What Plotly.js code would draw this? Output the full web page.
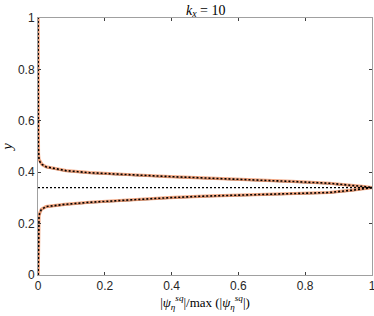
<!DOCTYPE html>
<html>
<head>
<meta charset="utf-8">
<script src="https://cdn.plot.ly/plotly-3.0.1.min.js"></script>
<style>html,body{margin:0;padding:0;background:#fff;}#chart{width:374px;height:316px;}</style>
</head>
<body>
<div id="chart"></div>
<script>
// Profile |psi| / max(|psi|) versus y (dotted / orange curve)
var yProfile = [0, 0.1, 0.2, 0.228, 0.24, 0.255, 0.266, 0.275, 0.283, 0.293, 0.301, 0.307, 0.313, 0.321, 0.330, 0.336, 0.340, 0.345, 0.350, 0.357, 0.364, 0.370, 0.376, 0.383, 0.390, 0.398, 0.406, 0.415, 0.421, 0.430, 0.440, 0.450, 0.470, 0.5, 0.6, 0.8, 1.0];
var xProfile = [0.0005, 0.001, 0.0015, 0.003, 0.005, 0.01, 0.024, 0.08, 0.155, 0.28, 0.394, 0.5, 0.633, 0.872, 0.94, 0.975, 1.0, 0.97, 0.93, 0.872, 0.76, 0.633, 0.52, 0.394, 0.28, 0.155, 0.084, 0.045, 0.024, 0.012, 0.006, 0.003, 0.0015, 0.001, 0.0008, 0.0005, 0.0003];
// Solid black reference curve (slightly offset)
var ySolid = [0, 0.1, 0.2, 0.225, 0.237, 0.252, 0.263, 0.272, 0.280, 0.290, 0.298, 0.304, 0.310, 0.318, 0.327, 0.333, 0.338, 0.342, 0.347, 0.354, 0.361, 0.367, 0.373, 0.380, 0.387, 0.395, 0.403, 0.412, 0.418, 0.427, 0.437, 0.447, 0.467, 0.5, 0.6, 0.8, 1.0];
var xSolid = [0.0005, 0.001, 0.0015, 0.003, 0.005, 0.01, 0.024, 0.08, 0.155, 0.28, 0.394, 0.5, 0.633, 0.872, 0.94, 0.975, 1.0, 0.97, 0.93, 0.872, 0.76, 0.633, 0.52, 0.394, 0.28, 0.155, 0.084, 0.045, 0.024, 0.012, 0.006, 0.003, 0.0015, 0.001, 0.0008, 0.0005, 0.0003];
// Horizontal marker line at the critical level
var yCritical = 0.34;
var xCriticalRange = [0, 1];
var tickVals = [0, 0.2, 0.4, 0.6, 0.8, 1];
var tickText = ['0', '0.2', '0.4', '0.6', '0.8', '1'];

var traces = [
  {x: xSolid, y: ySolid, mode: 'lines', line: {color: '#000000', width: 1}, hoverinfo: 'skip'},
  {x: xProfile, y: yProfile, mode: 'lines', line: {color: 'rgb(242,160,120)', width: 3.2}, opacity: 0.9, hoverinfo: 'skip'},
  {x: xProfile, y: yProfile, mode: 'lines', line: {color: '#000000', width: 1.6, dash: '2px,2px'}, hoverinfo: 'skip'},
  {x: xCriticalRange, y: [yCritical, yCritical], mode: 'lines', line: {color: '#000000', width: 1.2, dash: '2px,2px'}, hoverinfo: 'skip'}
];

var axisCommon = {
  range: [0, 1],
  tickvals: tickVals,
  ticktext: tickText,
  ticks: 'inside',
  ticklen: 3,
  tickwidth: 1,
  tickcolor: '#404040',
  showline: true,
  linecolor: '#a0a0a0',
  linewidth: 1,
  mirror: 'ticks',
  showgrid: false,
  zeroline: false,
  ticklabeloverflow: 'allow',
  tickfont: {family: 'Liberation Sans, Arial, sans-serif', size: 12, color: '#262626'}
};

var layout = {
  width: 374,
  height: 316,
  margin: {l: 38, r: 2, t: 18, b: 41},
  paper_bgcolor: '#ffffff',
  plot_bgcolor: '#ffffff',
  showlegend: false,
  title: {
    text: '<i>k</i><sub><i>x</i></sub> = 10',
    font: {family: 'Liberation Serif, DejaVu Serif, serif', size: 14, color: '#000000'},
    x: 0.55, xanchor: 'center', y: 0.985, yanchor: 'top'
  },
  xaxis: Object.assign({}, axisCommon, {
    title: {text: '|<i>ψ</i><sub><i>η</i></sub><sup><i>sq</i></sup>|/max (|<i>ψ</i><sub><i>η</i></sub><sup><i>sq</i></sup>|)',
            font: {family: 'Liberation Serif, DejaVu Serif, serif', size: 13, color: '#000000'}, standoff: 2}
  }),
  yaxis: Object.assign({}, axisCommon, {
    title: {text: '<i>y</i>', font: {family: 'Liberation Serif, DejaVu Serif, serif', size: 14, color: '#000000'}, standoff: 6}
  })
};

Plotly.newPlot('chart', traces, layout, {displayModeBar: false, staticPlot: true});
</script>
</body>
</html>
